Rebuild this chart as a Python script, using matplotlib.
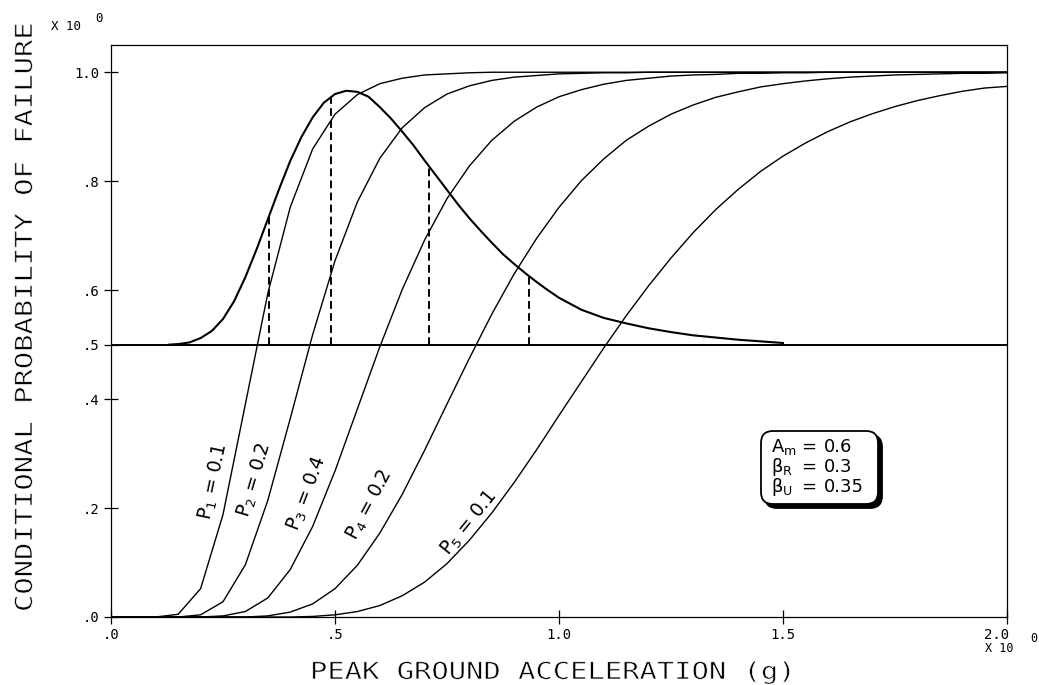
"""Fragility family for one component: five lognormal curves weighted by
their probability, with the median-capacity density drawn above the 0.5 line."""

import matplotlib

matplotlib.use("Agg")
import matplotlib.pyplot as plt
import numpy as np
from matplotlib.patches import FancyBboxPatch
from matplotlib.patheffects import AbstractPathEffect
from matplotlib.transforms import Affine2D, ScaledTranslation

W, H = 1039, 685

# peak ground acceleration (g), sampled like the plotter did
accel = [0.00, 0.05, 0.10, 0.15, 0.20, 0.25, 0.30, 0.35, 0.40, 0.45,
         0.50, 0.55, 0.60, 0.65, 0.70, 0.75, 0.80, 0.85, 0.90, 0.95,
         1.00, 1.05, 1.10, 1.15, 1.20, 1.25, 1.30, 1.35, 1.40, 1.45,
         1.50, 1.55, 1.60, 1.65, 1.70, 1.75, 1.80, 1.85, 1.90, 1.95,
         2.00]

p1_frag = [0, 0, 0, 0.005, 0.052, 0.188, 0.391, 0.594, 0.752, 0.859,
           0.923, 0.959, 0.979, 0.989, 0.995, 0.997, 0.999, 1, 1, 1,
           1, 1, 1, 1, 1, 1, 1, 1, 1, 1,
           1, 1, 1, 1, 1, 1, 1, 1, 1, 1,
           1]
p2_frag = [0, 0, 0, 0, 0.004, 0.028, 0.096, 0.214, 0.364, 0.518,
           0.654, 0.762, 0.842, 0.898, 0.935, 0.960, 0.975, 0.985, 0.991, 0.994,
           0.997, 0.998, 0.999, 0.999, 1, 1, 1, 1, 1, 1,
           1, 1, 1, 1, 1, 1, 1, 1, 1, 1,
           1]
p3_frag = [0, 0, 0, 0, 0, 0.002, 0.010, 0.035, 0.087, 0.166,
           0.268, 0.382, 0.496, 0.601, 0.692, 0.768, 0.828, 0.875, 0.910, 0.936,
           0.955, 0.968, 0.978, 0.985, 0.989, 0.993, 0.995, 0.996, 0.998, 0.998,
           0.999, 0.999, 1, 1, 1, 1, 1, 1, 1, 1,
           1]
p4_frag = [0, 0, 0, 0, 0, 0, 0, 0.002, 0.009, 0.024,
           0.052, 0.095, 0.154, 0.225, 0.306, 0.391, 0.475, 0.556, 0.630, 0.695,
           0.752, 0.801, 0.841, 0.875, 0.901, 0.923, 0.940, 0.954, 0.964, 0.973,
           0.979, 0.984, 0.988, 0.991, 0.993, 0.995, 0.996, 0.997, 0.998, 0.998,
           0.999]
p5_frag = [0, 0, 0, 0, 0, 0, 0, 0, 0, 0.001,
           0.004, 0.010, 0.021, 0.039, 0.064, 0.098, 0.141, 0.191, 0.247, 0.307,
           0.370, 0.432, 0.494, 0.553, 0.608, 0.659, 0.706, 0.748, 0.785, 0.818,
           0.846, 0.870, 0.891, 0.909, 0.924, 0.937, 0.948, 0.957, 0.965, 0.971,
           0.974]
fragility = [p1_frag, p2_frag, p3_frag, p4_frag, p5_frag]

curve_labels = ["P$_1$ = 0.1", "P$_2$ = 0.2", "P$_3$ = 0.4",
                "P$_4$ = 0.2", "P$_5$ = 0.1"]

# median capacity density, drawn on top of the 0.5 base line
cap_accel = [0.13, 0.15, 0.175, 0.20, 0.225, 0.25, 0.275, 0.30, 0.325, 0.35,
             0.375, 0.40, 0.425, 0.45, 0.475, 0.50, 0.525, 0.55, 0.575, 0.60,
             0.625, 0.65, 0.675, 0.70, 0.725, 0.75, 0.775, 0.80, 0.825, 0.85,
             0.875, 0.90, 0.925, 0.95, 0.975, 1.00, 1.05, 1.10, 1.15, 1.20,
             1.25, 1.30, 1.35, 1.40, 1.45, 1.50]
cap_density = [0.500, 0.501, 0.504, 0.512, 0.525, 0.547, 0.580, 0.624, 0.675, 0.730,
               0.785, 0.837, 0.881, 0.917, 0.944, 0.960, 0.966, 0.964, 0.955, 0.936,
               0.915, 0.891, 0.866, 0.838, 0.811, 0.784, 0.757, 0.732, 0.709, 0.687,
               0.666, 0.648, 0.631, 0.615, 0.600, 0.586, 0.564, 0.549, 0.539, 0.530,
               0.523, 0.517, 0.513, 0.509, 0.506, 0.503]
split_accel = [0.353, 0.491, 0.710, 0.933]

base_level = 0.5
x_ticks = [0.0, 0.5, 1.0, 1.5, 2.0]
x_ticklabels = [".0", ".5", "1.0", "1.5", "2.0"]
y_ticks = [0.0, 0.2, 0.4, 0.5, 0.6, 0.8, 1.0]
y_ticklabels = [".0", ".2", ".4", ".5", ".6", ".8", "1.0"]

params = [("A$_m$", "0.6"), ("β$_R$", "0.3"), ("β$_U$", "0.35")]


class PlotterPen(AbstractPathEffect):
    """Widen glyphs along the baseline and thin their strokes a little,
    to look like the spaced single-stroke lettering of the pen plotter."""

    def __init__(self, sx, thin=0.5):
        super().__init__()
        self.sx = sx
        self.thin = thin

    def draw_path(self, renderer, gc, tpath, affine, rgbFace=None):
        tr = Affine2D().scale(self.sx, 1) + affine
        renderer.draw_path(gc, tpath, tr, rgbFace)
        gc2 = renderer.new_gc()
        gc2.copy_properties(gc)
        gc2.set_linewidth(self.thin)
        gc2.set_foreground("white")
        renderer.draw_path(gc2, tpath, tr, None)
        gc2.restore()


def fxy(px, py):
    return px / W, 1 - py / H


plt.rcParams["font.family"] = ["DejaVu Sans Mono"]
plt.rcParams["mathtext.default"] = "regular"

fig = plt.figure(figsize=(W / 100, H / 100), dpi=100)
ax = fig.add_axes([111 / W, 1 - 617 / H, (1007 - 111) / W, (617 - 45) / H])

for frag in fragility:
    ax.plot(accel, frag, color="black", lw=1.0)

ax.axhline(base_level, color="black", lw=1.4)
ax.plot(cap_accel, cap_density, color="black", lw=1.5)
tops = np.interp(split_accel, cap_accel, cap_density)
ax.vlines(split_accel, base_level, tops, colors="black", lw=1.4,
          linestyles=[(0, (4, 2.2))])

ax.set_xlim(0, 2.0)
ax.set_ylim(0, 1.05)
ax.set_xticks(x_ticks, x_ticklabels)
ax.set_yticks(y_ticks, y_ticklabels)
ax.tick_params(direction="inout", length=10, width=0.9, labelsize=10, pad=3)
for s in ax.spines.values():
    s.set_linewidth(0.9)
# the last x label sits left of its tick on the original
lab = ax.get_xticklabels()[-1]
lab.set_transform(lab.get_transform() + ScaledTranslation(-0.1, 0, fig.dpi_scale_trans))

# curve labels, rotated along each curve (pixel centre, angle)
label_spots = [(214, 482, 78), (255, 480, 73.5), (307, 493, 69),
               (370, 505, 62), (469, 523, 51)]
for text, (px, py, ang) in zip(curve_labels, label_spots):
    fig.text(*fxy(px, py), text, rotation=ang, rotation_mode="anchor",
             ha="center", va="center", fontsize=13.5, family="DejaVu Sans")

# parameter box with drop shadow
bx0, by0, bx1, by1 = 761, 431, 878, 504
for dx, face in ((4, "black"), (0, "white")):
    x0, y0 = fxy(bx0 + dx, by1 + dx)
    box = FancyBboxPatch((x0, y0), (bx1 - bx0) / W, (by1 - by0) / H,
                         boxstyle="round,pad=0,rounding_size=0.0115",
                         mutation_aspect=W / H, transform=fig.transFigure,
                         facecolor=face, edgecolor="black", lw=1.3)
    fig.add_artist(box)
for i, (sym, val) in enumerate(params):
    base = 452 + 20 * i
    fig.text(*fxy(771, base), sym, ha="left", va="baseline", fontsize=13,
             family="DejaVu Sans")
    fig.text(*fxy(809, base), "=", ha="center", va="baseline", fontsize=13,
             family="DejaVu Sans")
    fig.text(*fxy(824, base), val, ha="left", va="baseline", fontsize=13,
             family="DejaVu Sans")

# axis titles in spaced plotter lettering
fig.text(*fxy(310, 679), "PEAK GROUND ACCELERATION (g)", ha="left",
         va="baseline", fontsize=17, path_effects=[PlotterPen(1.22)])
fig.text(*fxy(32, 612), "CONDITIONAL PROBABILITY OF FAILURE", rotation=90,
         rotation_mode="anchor", ha="left", va="baseline", fontsize=17,
         path_effects=[PlotterPen(1.22)])

# scale multipliers
fig.text(*fxy(66, 27), "X 10", ha="center", va="center", fontsize=9)
fig.text(*fxy(99, 18), "0", ha="center", va="center", fontsize=9)
fig.text(*fxy(999, 649), "X 10", ha="center", va="center", fontsize=8.5)
fig.text(*fxy(1034, 638), "0", ha="center", va="center", fontsize=8.5)

fig.savefig("out.png", dpi=100)
